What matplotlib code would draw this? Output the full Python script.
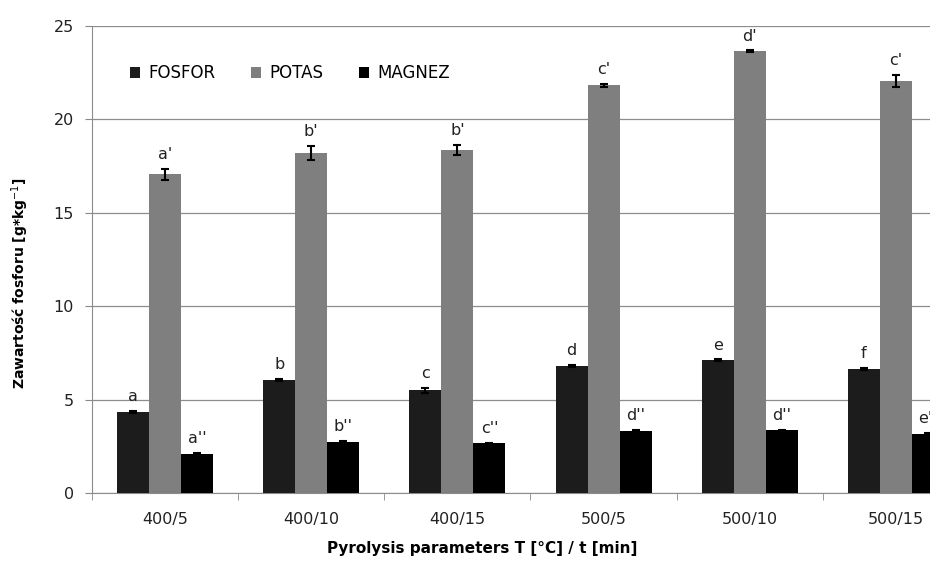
import numpy as np
import matplotlib.pyplot as plt

plt.rcParams['font.family'] = ['DejaVu Sans']

# data
categories = ['400/5', '400/10', '400/15', '500/5', '500/10', '500/15']
fosfor = [4.32, 6.04, 5.49, 6.81, 7.11, 6.65]
potas = [17.06, 18.20, 18.34, 21.82, 23.64, 22.07]
magnez = [2.09, 2.74, 2.66, 3.32, 3.35, 3.15]
fosfor_err = [0.05, 0.07, 0.14, 0.05, 0.04, 0.05]
potas_err = [0.31, 0.36, 0.27, 0.07, 0.05, 0.31]
magnez_err = [0.05, 0.05, 0.04, 0.04, 0.03, 0.05]
fosfor_lbl = ['a', 'b', 'c', 'd', 'e', 'f']
potas_lbl = ["a'", "b'", "b'", "c'", "d'", "c'"]
magnez_lbl = ["a''", "b''", "c''", "d''", "d''", "e''"]

fig = plt.figure(figsize=(9.3, 5.61), dpi=100)
ax = fig.add_axes([0.0989, 0.1212, 0.943, 0.8324])

x = np.arange(len(categories))
w = 0.219
series = [
    ('FOSFOR', fosfor, fosfor_err, fosfor_lbl, '#1c1c1c', -w),
    ('POTAS', potas, potas_err, potas_lbl, '#7f7f7f', 0),
    ('MAGNEZ', magnez, magnez_err, magnez_lbl, '#000000', w),
]

for name, vals, errs, lbls, col, off in series:
    ax.bar(x + off, vals, w, color=col, label=name, zorder=3,
           yerr=errs, error_kw=dict(ecolor='black', elinewidth=1.5,
                                    capsize=3, capthick=1.5, zorder=4))
    for xi, v, e, t in zip(x + off, vals, errs, lbls):
        ax.annotate(t, (xi, v + e), xytext=(0, 5), textcoords='offset points',
                    ha='center', va='bottom', fontsize=11.5, color='#222222',
                    annotation_clip=False)

ax.set_xlim(-0.5, len(categories) - 0.5)
ax.set_ylim(0, 25)
ax.set_yticks([0, 5, 10, 15, 20, 25])
ax.set_xticks(x)
ax.set_xticklabels(categories, fontsize=11.5, color='#222222')
ax.set_xticks(np.arange(len(categories) + 1) - 0.5, minor=True)
ax.tick_params(axis='x', which='major', length=0, pad=14)
ax.tick_params(axis='x', which='minor', length=5, color='#888888')
ax.tick_params(axis='y', length=5, color='#888888', labelsize=11.5,
               labelcolor='#222222', pad=8)

ax.grid(axis='y', color='#8c8c8c', linewidth=0.9, zorder=0)
ax.set_axisbelow(True)
for s in ['top', 'right']:
    ax.spines[s].set_visible(False)
for s in ['left', 'bottom']:
    ax.spines[s].set_color('#8c8c8c')

ax.set_ylabel('Zawartość fosforu [g*kg$^{-1}$]', fontsize=10,
              fontweight='bold')
ax.yaxis.set_label_coords(-0.07, 0.449)
ax.set_xlabel('Pyrolysis parameters T [°C] / t [min]', fontsize=11,
              fontweight='bold')
ax.xaxis.set_label_coords(0.445, -0.102)

ax.legend(loc='upper left', bbox_to_anchor=(0.026, 0.95), ncol=3, frameon=False,
          fontsize=12, handlelength=0.6, handleheight=0.6, handletextpad=0.5,
          columnspacing=2.15)

fig.savefig('out.png', dpi=100)
